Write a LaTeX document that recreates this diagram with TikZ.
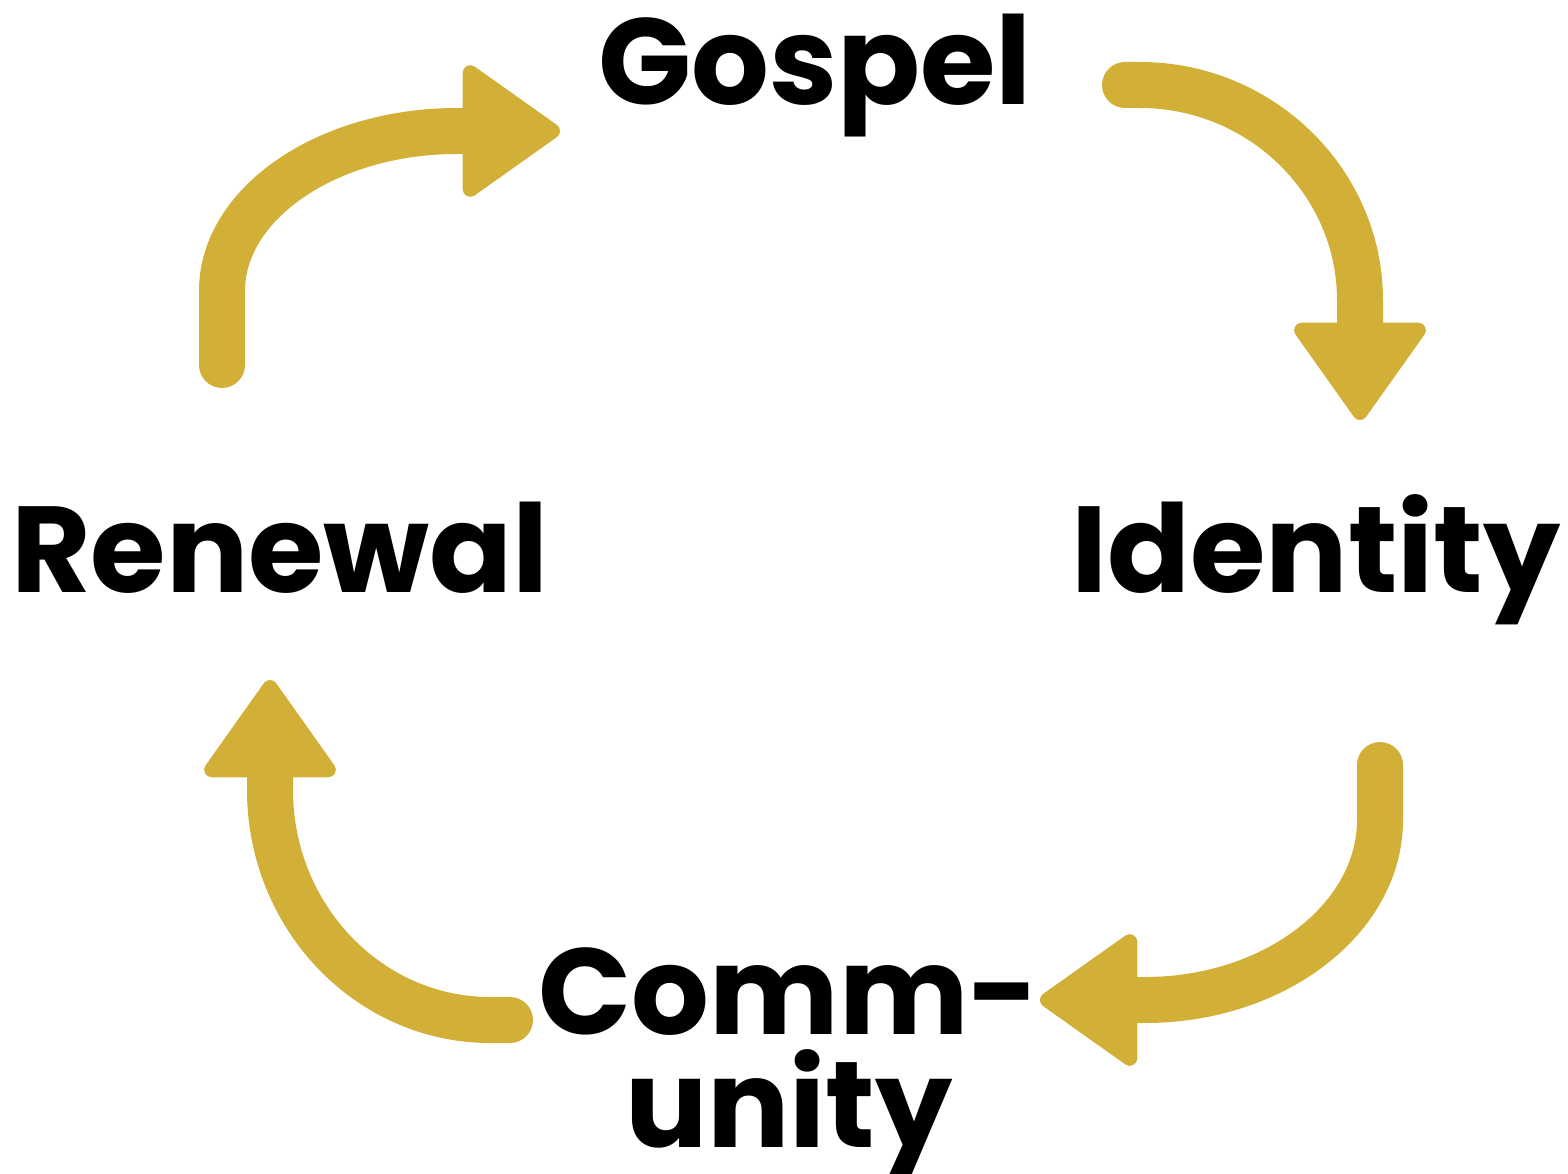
\documentclass[tikz,border=0pt]{standalone}
\usepackage{fontspec}
\setmainfont{Poppins}
\usetikzlibrary{arrows.meta}
\definecolor{gold}{HTML}{D2B038}

\begin{document}
\begin{tikzpicture}[x=0.1mm,y=-0.1mm]
\tikzset{word/.style={font=\fontsize{34.8}{31.9}\selectfont\bfseries, inner sep=0pt, anchor=base},
  flow/.style={draw=gold, line width=4.6mm, line cap=round,
    -{Triangle[width=14.2mm,length=10.3mm,round,line width=1.5mm]}}}
\useasboundingbox (0,0) rectangle (1568,1174);
% words
\node[word] (gospel) at (815,105) {Gospel};
\node[word] (renewal) at (280,592) {Renewal};
\node[word] (identity) at (1316,592) {Identity};
\node[word, align=center] (community) at (789,1147) {Comm-\\unity};
% arrow ends
\coordinate (rgTail) at (222,365);
\coordinate (rgTip) at (560,131);
\coordinate (giTail) at (1125,85);
\coordinate (giTip) at (1360,420);
\coordinate (icTail) at (1380,765);
\coordinate (icTip) at (1040,1000);
\coordinate (crTail) at (510,1020);
\coordinate (crTip) at (270,680);
% arrows
\draw[flow] (rgTail) -- (222,291) .. controls (222,203) and (328,131) .. (457,131) -- (rgTip);
\draw[flow] (giTail) -- (1140,85) .. controls (1261,85) and (1360,182) .. (1360,300) -- (giTip);
\draw[flow] (icTail) -- (1380,820) .. controls (1380,919) and (1274,1000) .. (1145,1000) -- (icTip);
\draw[flow] (crTail) -- (490,1020) .. controls (369,1020) and (270,917) .. (270,790) -- (crTip);
\end{tikzpicture}
\end{document}
